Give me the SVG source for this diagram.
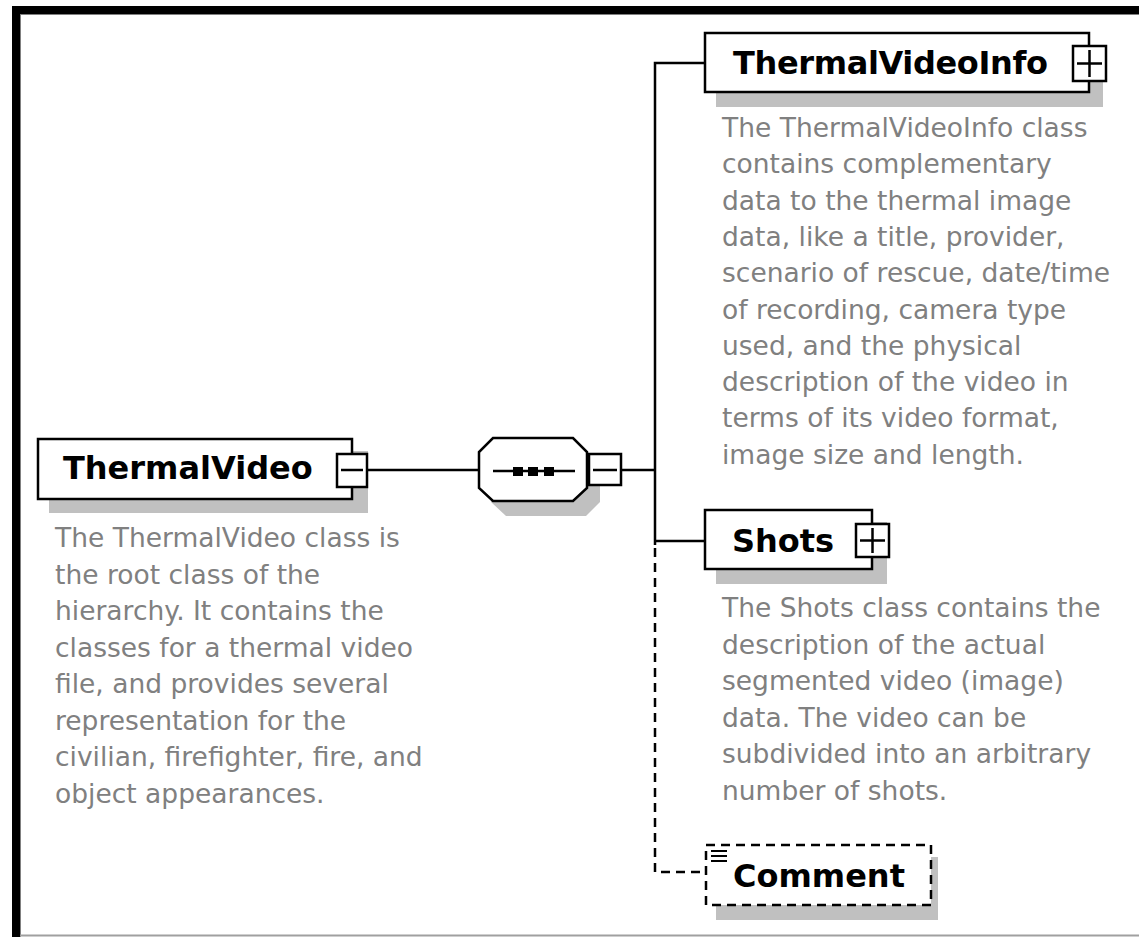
<svg xmlns="http://www.w3.org/2000/svg" width="1139" height="937" viewBox="0 0 1139 937">
  <style>
    .box { fill: #ffffff; stroke: #000000; stroke-width: 2.5; }
    .dbox { fill: #ffffff; stroke: #000000; stroke-width: 2.5; stroke-dasharray: 9 6; }
    .shadow { fill: #c0c0c0; stroke: none; }
    .btn { fill: #ffffff; stroke: #000000; stroke-width: 2.5; }
    .sign { stroke: #000000; stroke-width: 2.5; fill: none; }
    .name { font-family: "DejaVu Sans", "Liberation Sans", sans-serif; font-weight: bold; font-size: 32px; fill: #000000; }
    .doc { font-family: "DejaVu Sans", "Liberation Sans", sans-serif; font-size: 26.5px; fill: #808080; }
    .wire { stroke: #000000; stroke-width: 2.5; fill: none; }
    .dwire { stroke: #000000; stroke-width: 2.5; fill: none; stroke-dasharray: 9 6; }
  </style>

  <!-- frame -->
  <rect x="0" y="0" width="1139" height="937" fill="#ffffff"/>
  <rect x="12" y="6" width="1127" height="8" fill="#000000"/>
  <rect x="12" y="6" width="8" height="931" fill="#000000"/>
  <line x1="20" y1="14.5" x2="1139" y2="14.5" stroke="#808080" stroke-width="1"/>
  <line x1="20.5" y1="14" x2="20.5" y2="937" stroke="#808080" stroke-width="1"/>
  <line x1="20" y1="935.5" x2="1139" y2="935.5" stroke="#a0a0a0" stroke-width="2"/>

  <!-- connectors -->
  <g id="connectors">
    <line class="wire" x1="368" y1="470" x2="478" y2="470"/>
    <line class="wire" x1="622" y1="470" x2="655" y2="470"/>
    <polyline class="wire" points="704,63 655,63 655,545"/>
    <line class="wire" x1="655" y1="541" x2="704" y2="541"/>
    <polyline class="dwire" points="655,548 655,872 705,872"/>
  </g>

  <!-- root element -->
  <g id="ThermalVideo">
    <rect class="shadow" x="49" y="451" width="319" height="62"/>
    <rect class="box" x="38" y="439" width="314" height="60"/>
    <text class="name" x="63" y="479">ThermalVideo</text>
    <rect class="btn" x="337" y="454" width="30" height="33"/>
    <line class="sign" x1="341" y1="470" x2="363" y2="470"/>
    <g class="doc">
      <text x="55" y="547">The ThermalVideo class is</text>
      <text x="55" y="583.5">the root class of the</text>
      <text x="55" y="620">hierarchy. It contains the</text>
      <text x="55" y="656.5">classes for a thermal video</text>
      <text x="55" y="693">file, and provides several</text>
      <text x="55" y="729.5">representation for the</text>
      <text x="55" y="766">civilian, firefighter, fire, and</text>
      <text x="55" y="802.5">object appearances.</text>
    </g>
  </g>

  <!-- sequence compositor -->
  <g id="sequence">
    <polygon class="shadow" points="506,451 586,451 600,465 600,502 586,516 506,516 491,502 491,465"/>
    <polygon class="box" points="493,438 573,438 587,452 587,488 573,501 493,501 479,488 479,452"/>
    <line class="sign" x1="493" y1="471" x2="575" y2="471"/>
    <rect x="513" y="467" width="10" height="9" fill="#000000"/>
    <rect x="528" y="467" width="10" height="9" fill="#000000"/>
    <rect x="544" y="467" width="10" height="9" fill="#000000"/>
    <rect class="btn" x="589" y="454" width="32" height="31"/>
    <line class="sign" x1="593" y1="470" x2="617" y2="470"/>
  </g>

  <!-- ThermalVideoInfo -->
  <g id="ThermalVideoInfo">
    <rect class="shadow" x="716" y="45" width="387" height="62"/>
    <rect class="box" x="705" y="33" width="384" height="59"/>
    <text class="name" x="733" y="74" textLength="315" lengthAdjust="spacing">ThermalVideoInfo</text>
    <rect class="btn" x="1073" y="46" width="33" height="35"/>
    <line class="sign" x1="1077" y1="63.5" x2="1102" y2="63.5"/>
    <line class="sign" x1="1089.5" y1="50" x2="1089.5" y2="77"/>
    <g class="doc">
      <text x="722" y="137">The ThermalVideoInfo class</text>
      <text x="722" y="173.3">contains complementary</text>
      <text x="722" y="209.6">data to the thermal image</text>
      <text x="722" y="245.9">data, like a title, provider,</text>
      <text x="722" y="282.2">scenario of rescue, date/time</text>
      <text x="722" y="318.5">of recording, camera type</text>
      <text x="722" y="354.8">used, and the physical</text>
      <text x="722" y="391.1">description of the video in</text>
      <text x="722" y="427.4">terms of its video format,</text>
      <text x="722" y="463.7">image size and length.</text>
    </g>
  </g>

  <!-- Shots -->
  <g id="Shots">
    <rect class="shadow" x="716" y="522" width="171" height="62"/>
    <rect class="box" x="705" y="510" width="167" height="59"/>
    <text class="name" x="732" y="552">Shots</text>
    <rect class="btn" x="856" y="524" width="33" height="33"/>
    <line class="sign" x1="860" y1="540.5" x2="885" y2="540.5"/>
    <line class="sign" x1="872.5" y1="528" x2="872.5" y2="553"/>
    <g class="doc">
      <text x="722" y="617">The Shots class contains the</text>
      <text x="722" y="653.5">description of the actual</text>
      <text x="722" y="690">segmented video (image)</text>
      <text x="722" y="726.5">data. The video can be</text>
      <text x="722" y="763">subdivided into an arbitrary</text>
      <text x="722" y="799.5">number of shots.</text>
    </g>
  </g>

  <!-- Comment -->
  <g id="Comment">
    <rect class="shadow" x="716" y="857" width="222" height="63"/>
    <rect class="dbox" x="706" y="845" width="225" height="60"/>
    <text class="name" x="733" y="887">Comment</text>
    <g stroke="#000000" stroke-width="2">
      <line x1="711" y1="851" x2="727" y2="851"/>
      <line x1="711" y1="856" x2="727" y2="856"/>
      <line x1="711" y1="861" x2="727" y2="861"/>
    </g>
  </g>
</svg>
